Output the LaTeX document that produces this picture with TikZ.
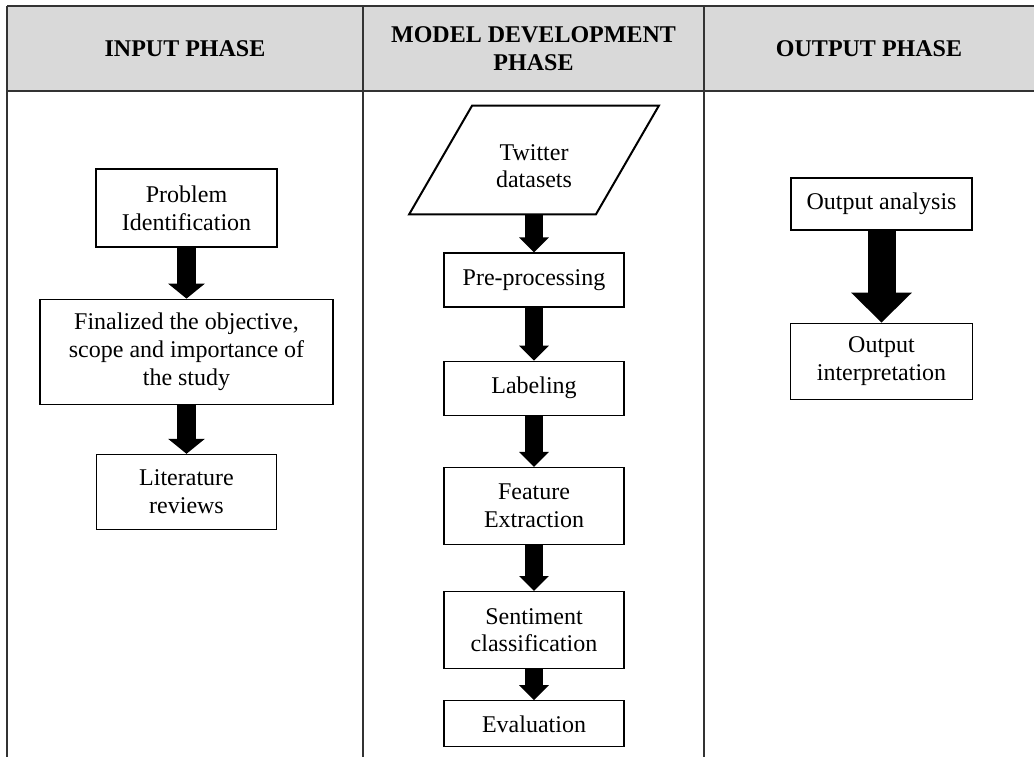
\documentclass[tikz,border=0pt]{standalone}
\usepackage{fontspec}
\setmainfont{Liberation Serif}
\usetikzlibrary{arrows.meta, positioning}
\usepackage{xcolor}
\definecolor{Ink}{HTML}{000000}
\definecolor{HeadFill}{HTML}{D9D9D9}
\definecolor{Rule}{HTML}{333333}

\begin{document}
\begin{tikzpicture}[
            x=0.5pt, y=-0.5pt,
            box/.style={
                rectangle,
                draw=Ink,
                line width=0.6pt,
                minimum width=90pt,
                inner sep=2pt,
                align=center,
                font=\fontsize{12}{13.8}\selectfont,
                text=Ink
            },
            data/.style={
                rectangle,
                minimum width=93pt,
                minimum height=54pt,
                inner sep=0pt,
                align=center,
                font=\fontsize{12}{13.8}\selectfont,
                text=Ink
            },
            head/.style={align=center, font=\fontsize{12}{13.8}\selectfont\bfseries, text=Ink},
            rule/.style={line width=1pt, color=Rule},
            blockarrow/.style={line width=9.5pt, color=Ink, -{Triangle[length=7.5pt, width=18pt]}},
            slimarrow/.style={line width=9pt, color=Ink, -{Triangle[length=7.5pt, width=14.5pt]}},
            bigarrow/.style={line width=14pt, color=Ink, -{Triangle[length=15pt, width=29.5pt]}}
        ]
            \useasboundingbox (0,0) rectangle (1034,757);

            % Table frame
            \fill[HeadFill] (7,6) rectangle (1034,91);
            \draw[rule] (7,6) -- (1034,6);
            \draw[rule] (7,91) -- (1034,91);
            \draw[rule] (7,6) -- (7,757);
            \draw[rule] (363,6) -- (363,757);
            \draw[rule] (704,6) -- (704,757);

            \node[head] (hin) at (185,48.5) {INPUT PHASE};
            \node[head] (hmodel) at (533.5,48.5) {MODEL DEVELOPMENT\\PHASE};
            \node[head] (hout) at (869,48.5) {OUTPUT PHASE};

            % Input phase
            \node[box, minimum width=90.5pt, minimum height=39pt] (prob) at (186.5,208) {Problem\\Identification};
            \node[box, minimum width=146.5pt, minimum height=52.5pt, below=25.5pt of prob] (final) {Finalized the objective,\\scope and importance of\\the study};
            \node[box, minimum height=37.5pt, below=24.5pt of final] (lit) {Literature\\reviews};

            \draw[blockarrow] (prob) -- (final);
            \draw[blockarrow] (final) -- (lit);

            % Model development phase (text sits a little low in the parallelogram)
            \node[data] (twitter) at (534,166) {Twitter\\datasets};
            \coordinate (twbase) at ([yshift=3pt]twitter.south);
            \draw[line width=1pt, color=Ink] ([shift={(15.75pt,3pt)}]twitter.north west) -- ([shift={(15.75pt,3pt)}]twitter.north east)
                -- ([shift={(-15.75pt,3pt)}]twitter.south east) -- ([shift={(-15.75pt,3pt)}]twitter.south west) -- cycle;
            \node[box, minimum height=27pt, below=16pt of twitter] (prep) {Pre-processing};
            \node[box, minimum height=27pt, below=26.5pt of prep] (label) {Labeling};
            \node[box, minimum height=38.5pt, below=25.5pt of label] (feat) {Feature\\Extraction};
            \node[box, minimum height=38.5pt, below=23pt of feat] (senti) {Sentiment\\classification};
            \node[box, minimum height=23pt, below=15.5pt of senti] (eval) {Evaluation};

            \draw[slimarrow] (twbase) -- (prep);
            \draw[slimarrow] (prep) -- (label);
            \draw[slimarrow] (label) -- (feat);
            \draw[slimarrow] (feat) -- (senti);
            \draw[slimarrow] (senti) -- (eval);

            % Output phase
            \node[box, minimum width=90.5pt, minimum height=26pt] (outan) at (881.5,204) {Output analysis};
            \node[box, minimum width=91pt, minimum height=38pt, below=46pt of outan] (outint) {Output\\interpretation};

            \draw[bigarrow] (outan) -- (outint);
        \end{tikzpicture}
\end{document}
